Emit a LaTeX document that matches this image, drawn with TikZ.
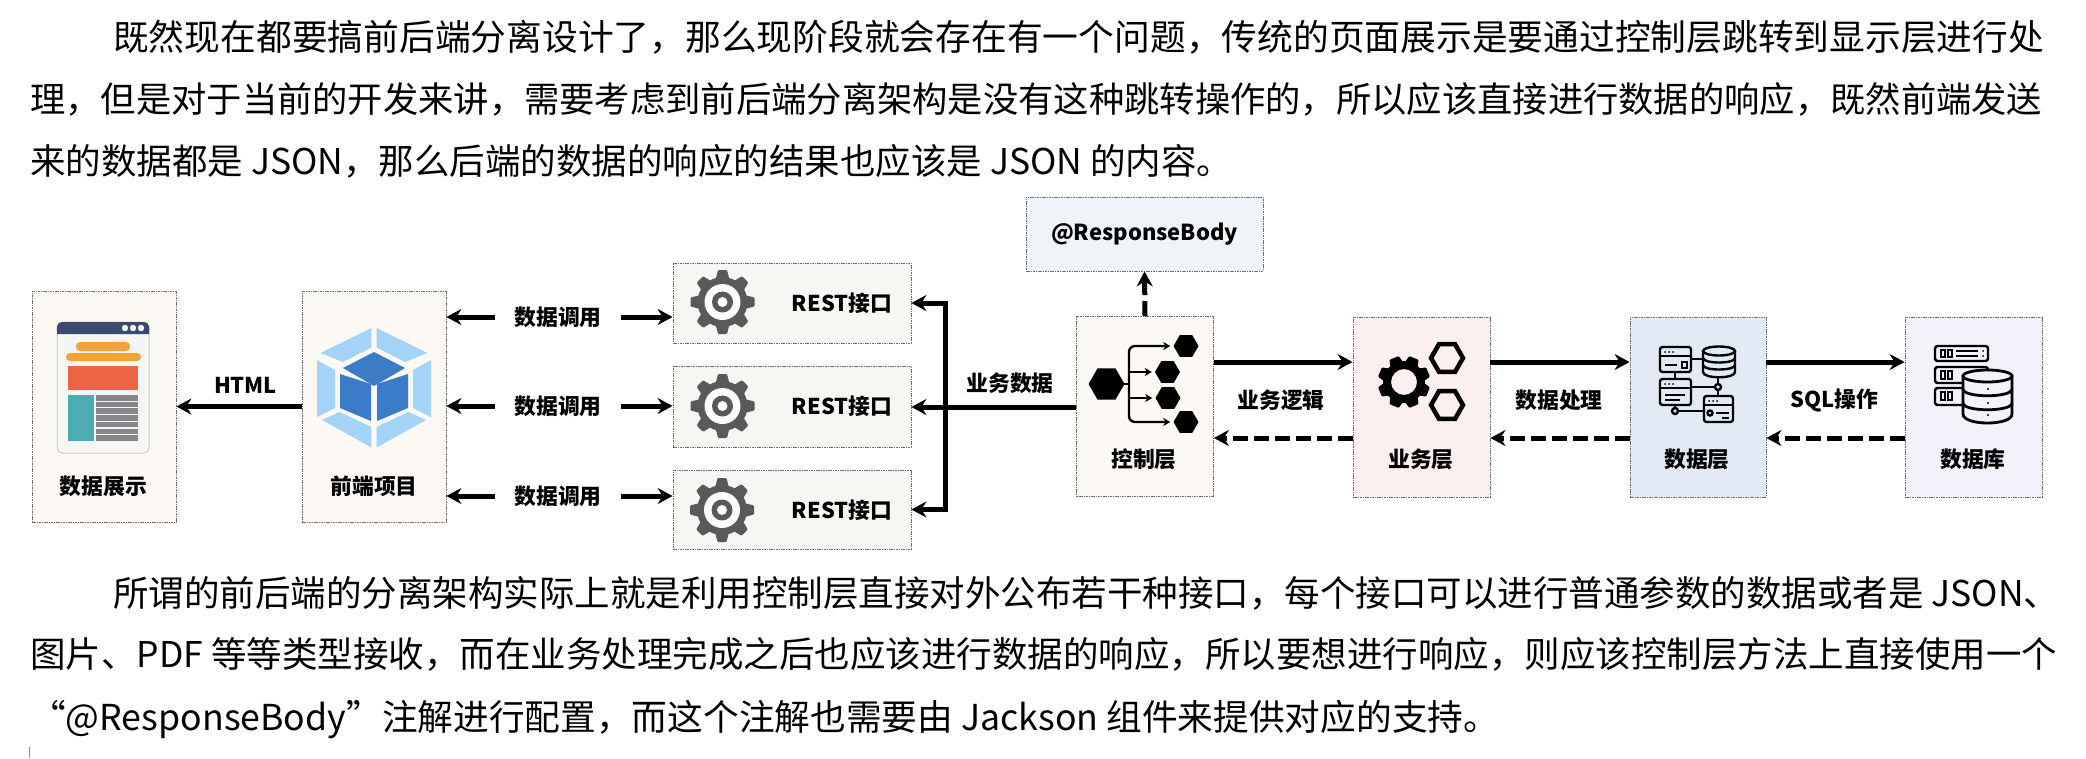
\documentclass[tikz,border=0pt]{standalone}
\usepackage{fontspec}
\setmainfont{Noto Sans CJK SC}
\usetikzlibrary{arrows.meta,shapes.geometric}
\definecolor{boxline}{HTML}{6E6E6E}
\definecolor{warmfill}{HTML}{FCF8F3}
\definecolor{restfill}{HTML}{F6F6F3}
\definecolor{respfill}{HTML}{EEF4F7}
\definecolor{bizfill}{HTML}{FCF0EE}
\definecolor{datafill}{HTML}{E2EAF5}
\definecolor{basefill}{HTML}{F3F1FA}
\definecolor{gearcol}{HTML}{58595B}
\definecolor{cubelight}{HTML}{A3D4F7}
\definecolor{cubedark}{HTML}{3B7BC8}
\definecolor{pagehead}{HTML}{3A4A6E}
\definecolor{pageorange}{HTML}{F2A33A}
\definecolor{pagered}{HTML}{EB6544}
\definecolor{pageteal}{HTML}{4BADB2}
\definecolor{pagegrey}{HTML}{85868A}
\tikzset{
  box/.style={draw=boxline,line width=0.8pt,dash pattern=on 1.6pt off 0.8pt,inner sep=0pt},
  para/.style={anchor=base west,inner sep=0pt},
  lab/.style={font=\bfseries\fontsize{21.8}{24}\selectfont,inner sep=0pt},
  call/.style={lab,inner xsep=19.5pt},
  flow/.style={line width=5pt},
  back/.style={line width=5pt,dash pattern=on 15pt off 6pt},
  hexfill/.style={regular polygon,regular polygon sides=6,fill=black,inner sep=0pt},
  hexline/.style={regular polygon,regular polygon sides=6,draw=black,line width=4.5pt,inner sep=0pt,minimum size=32pt},
  minor/.style={line width=2.4pt},
  icon/.style={line width=2.4pt,rounded corners=2.5pt},
  gearicon/.pic={
    \fill [gearcol] (0,0) circle (25);
    \foreach \a in {0,45,...,315}
      \fill [gearcol,rotate=\a,rounded corners=1pt] (-7,-22) -- (-4.5,-32) -- (4.5,-32) -- (7,-22) -- cycle;
    \fill [white] (0,0) circle (18);
    \fill [gearcol] (0,0) circle (10.5);
    \fill [white] (0,0) circle (5);
  }
}
\begin{document}
\begin{tikzpicture}[x=1pt,y=-1pt,>={Stealth[length=15pt,width=16pt,inset=5pt]}]
  \useasboundingbox (0,0) rectangle (2086,758);

  \node (top1) at (113,50.5) [para,font=\fontsize{35.76}{40}\selectfont] {既然现在都要搞前后端分离设计了，那么现阶段就会存在有一个问题，传统的页面展示是要通过控制层跳转到显示层进行处};
  \node (top2) at (30,112.5) [para,font=\fontsize{35.3}{40}\selectfont] {理，但是对于当前的开发来讲，需要考虑到前后端分离架构是没有这种跳转操作的，所以应该直接进行数据的响应，既然前端发送};
  \node (top3) at (30,174.5) [para,font=\fontsize{35.5}{40}\selectfont] {来的数据都是 JSON，那么后端的数据的响应的结果也应该是 JSON 的内容。};
  \node (bot1) at (113,606.5) [para,font=\fontsize{35.5}{40}\selectfont] {所谓的前后端的分离架构实际上就是利用控制层直接对外公布若干种接口，每个接口可以进行普通参数的数据或者是 JSON、};
  \node (bot2) at (30,667.5) [para,font=\fontsize{35.5}{40}\selectfont] {图片、PDF 等等类型接收，而在业务处理完成之后也应该进行数据的响应，所以要想进行响应，则应该控制层方法上直接使用一个};
  \node (bot3) at (30,730.5) [para,font=\fontsize{35.7}{40}\selectfont] {“@ResponseBody”注解进行配置，而这个注解也需要由 Jackson 组件来提供对应的支持。};
  \draw [black!45,line width=1pt] (29,747) -- (29,758);

  \node (show) at (104,406.5) [box,fill=warmfill,minimum width=144pt,minimum height=231pt] {};
  \node (front) at (374,406.5) [box,fill=warmfill,minimum width=144pt,minimum height=231pt] {};
  \node (rest1) at (792,303) [box,fill=restfill,minimum width=238pt,minimum height=80pt] {};
  \node (rest2) at (792,406.5) [box,fill=restfill,minimum width=238pt,minimum height=81pt] {};
  \node (rest3) at (792,509.5) [box,fill=restfill,minimum width=238pt,minimum height=79pt] {};
  \node (resp) at (1144.5,234) [box,fill=respfill,minimum width=237pt,minimum height=74pt,lab,font=\bfseries\fontsize{22}{26}\selectfont] {@ResponseBody};
  \node (ctrl) at (1145,406.5) [box,fill=warmfill,minimum width=137pt,minimum height=180pt] {};
  \node (biz) at (1421.5,407) [box,fill=bizfill,minimum width=137pt,minimum height=180pt] {};
  \node (data) at (1698,407) [box,fill=datafill,minimum width=136pt,minimum height=180pt] {};
  \node (dbase) at (1973.5,407) [box,fill=basefill,minimum width=137pt,minimum height=180pt] {};

  \node (showtxt) at (103.5,486) [lab] {数据展示};
  \node (fronttxt) at (374,486) [lab] {前端项目};
  \node (ctrltxt) at (1144,459) [lab] {控制层};
  \node (biztxt) at (1421,459) [lab] {业务层};
  \node (datatxt) at (1697,459) [lab] {数据层};
  \node (basetxt) at (1973,459) [lab] {数据库};
  \node (resttxt1) at (842,303) [lab] {REST接口};
  \node (resttxt2) at (842,406) [lab] {REST接口};
  \node (resttxt3) at (842,510) [lab] {REST接口};
  \node (html) at (245.5,385) [lab] {HTML};
  \node (call1) at (558,317) [call] {数据调用};
  \node (call2) at (558,406) [call] {数据调用};
  \node (call3) at (558,496) [call] {数据调用};
  \node (bizdata) at (1010,383) [lab] {业务数据};
  \node (logic) at (1281,400) [lab] {业务逻辑};
  \node (handle) at (1559,400) [lab] {数据处理};
  \node (sql) at (1834,400) [lab] {SQL操作};

  \coordinate (upper) at (0,362);
  \coordinate (lower) at (0,438);
  \coordinate (bus) at (945,407);
  \coordinate (busa) at (945,303);
  \coordinate (busb) at (945,509.5);

  \draw [flow,->] (front.west) -- (show.east);
  \draw [flow,->] (call1.west) -- (call1.west -| front.east);
  \draw [flow,->] (call2.west) -- (call2.west -| front.east);
  \draw [flow,->] (call3.west) -- (call3.west -| front.east);
  \draw [flow,->] (call1.east) -- (call1.east -| rest1.west);
  \draw [flow,->] (call2.east) -- (call2.east -| rest2.west);
  \draw [flow,->] (call3.east) -- (call3.east -| rest3.west);
  \draw [flow,->] (bus -| ctrl.west) -- (bus -| rest2.east);
  \draw [flow,<->] (rest1.east) -- (busa) -- (busb) -- (rest3.east);
  \draw [back,->] (ctrl.north) -- (resp.south);
  \draw [flow,->] (upper -| ctrl.east) -- (upper -| biz.west);
  \draw [flow,->] (upper -| biz.east) -- (upper -| data.west);
  \draw [flow,->] (upper -| data.east) -- (upper -| dbase.west);
  \draw [back,->] (lower -| biz.west) -- (lower -| ctrl.east);
  \draw [back,->] (lower -| data.west) -- (lower -| biz.east);
  \draw [back,->] (lower -| dbase.west) -- (lower -| data.east);

  % page icon
  \draw [fill=black!4,draw=black!20,line width=1pt,rounded corners=5pt] (57,322) rectangle (149,453);
  \fill [pagehead] (57,334) [rounded corners=5pt] -- (57,322) -- (149,322) [sharp corners] -- (149,334) -- cycle;
  \fill [white] (125,328) circle (3.2) (133,328) circle (3.2) (141,328) circle (3.2);
  \fill [pageorange,rounded corners=4pt] (76,342) rectangle (130,351);
  \fill [pageorange,rounded corners=4pt] (66,353) rectangle (141,361);
  \fill [pagered] (68,366) rectangle (138,390);
  \fill [pageteal] (68,395) rectangle (94,441);
  \foreach \y in {395,401.7,408.4,415.1,421.8,428.5,435.2}
    \fill [pagegrey] (96,\y) rectangle (138,\y+5.5);

  % webpack cube
  \begin{scope}[shift={(374,387)}]
    \foreach \s in {1,-1} {
      \begin{scope}[xscale=\s]
        \fill [cubelight] (2.6,-59) -- (53.5,-34) -- (31,-25) -- (2.6,-39.5) -- cycle;
        \fill [cubelight] (57,-27) -- (57,30) -- (39,21) -- (39,-17) -- cycle;
        \fill [cubelight] (2.6,60.5) -- (52,33) -- (34.5,25) -- (2.6,40) -- cycle;
        \fill [cubedark] (3,-3) -- (34,-13) -- (34,21) -- (3,34) -- cycle;
      \end{scope}
    }
    \fill [cubedark] (0,-35) -- (31,-19) -- (0,-1) -- (-31,-19) -- cycle;
  \end{scope}

  \pic at (722.5,302) {gearicon};
  \pic at (722.5,406) {gearicon};
  \pic at (722,510) {gearicon};

  % control icon
  \node (hexbig) at (1106.5,384) [hexfill,minimum size=36pt] {};
  \node (hexa) at (1186,346) [hexfill,minimum size=25pt] {};
  \node (hexb) at (1167.5,372) [hexfill,minimum size=25pt] {};
  \node (hexc) at (1168,398) [hexfill,minimum size=25pt] {};
  \node (hexd) at (1186,422) [hexfill,minimum size=25pt] {};
  \coordinate (trunk) at (1129,384);
  \draw [minor] (hexbig.center) -- (trunk);
  \draw [minor,rounded corners=6pt,-{Stealth[length=7pt,width=8pt,inset=2pt]},shorten >=3pt] (trunk) |- (hexa.west);
  \draw [minor,rounded corners=6pt,-{Stealth[length=7pt,width=8pt,inset=2pt]},shorten >=3pt] (trunk) |- (hexd.west);
  \draw [minor,-{Stealth[length=7pt,width=8pt,inset=2pt]},shorten >=3pt] (trunk |- hexb) -- (hexb.west);
  \draw [minor,-{Stealth[length=7pt,width=8pt,inset=2pt]},shorten >=3pt] (trunk |- hexc) -- (hexc.west);

  % business icon
  \fill [even odd rule,black] (1404,382) circle (21) (1404,382) circle (13);
  \foreach \a in {0,45,...,315}
    \fill [black,shift={(1404,382)},rotate=\a+22.5,rounded corners=1pt] (-7,-18) -- (-5,-26) -- (5,-26) -- (7,-18) -- cycle;
  \node (hexe) at (1447,358) [hexline] {};
  \node (hexf) at (1447,405) [hexline] {};

  % data layer icon
  \draw [icon] (1660,347) rectangle (1691,372);
  \draw [minor] (1660,356) -- (1691,356) (1665,365) -- (1677,365);
  \fill (1665,352) circle (1) (1669,352) circle (1) (1673,352) circle (1);
  \draw [minor] (1682,362) rectangle (1687,368);
  \draw [icon] (1660,379) rectangle (1691,405);
  \draw [minor] (1660,388) -- (1691,388) (1665,395) -- (1685,395) (1665,400) -- (1680,400);
  \fill (1665,384) circle (1) (1669,384) circle (1) (1673,384) circle (1);
  \draw [icon] (1704,396) rectangle (1733,422);
  \draw [minor] (1704,405) -- (1733,405) (1716,413) -- (1729,413) (1722,418) -- (1729,418);
  \fill (1709,401) circle (1) (1713,401) circle (1) (1717,401) circle (1);
  \draw [minor] (1710,413) circle (2.5);
  \draw [minor] (1719,351) ellipse (16 and 4.5);
  \draw [minor] (1703,351) -- (1703,372) .. controls (1703,379) and (1735,379) .. (1735,372) -- (1735,351);
  \foreach \y in {358,365}
    \draw [minor] (1703,\y) .. controls (1703,\y+6) and (1735,\y+6) .. (1735,\y);
  \draw [minor] (1691,359) -- (1703,359);
  \draw [minor] (1675,372) -- (1675,379);
  \draw [minor] (1691,387) -- (1715,387) (1718,377) -- (1718,384) (1718,390) -- (1718,396);
  \draw [minor] (1718,387) circle (3);
  \draw [minor] (1675,405) -- (1675,408) (1678,411) -- (1704,411);
  \draw [minor] (1675,411) circle (3);

  % database icon
  \draw [icon] (1935,346) rectangle (1988,361);
  \draw [icon] (1935,367) rectangle (1988,383);
  \draw [icon] (1935,388) rectangle (1988,405);
  \draw [minor] (1941,350) rectangle (1945,357) (1948,350) rectangle (1952,357);
  \draw [minor] (1956,351) -- (1978,351) (1956,356) -- (1978,356);
  \fill (1983,351) circle (1) (1983,356) circle (1);
  \draw [minor] (1941,371) rectangle (1945,379) (1948,371) rectangle (1952,379);
  \draw [minor] (1941,392) rectangle (1945,400) (1948,392) rectangle (1952,400);
  \draw [line width=2.8pt,fill=basefill] (1963,376) -- (1963,414) .. controls (1963,426) and (2012,426) .. (2012,414) -- (2012,376) -- cycle;
  \draw [line width=2.8pt,fill=basefill] (1987.5,376) ellipse (24.5 and 6);
  \foreach \y in {389,403}
    \draw [line width=2.8pt] (1963,\y) .. controls (1963,\y+9) and (2012,\y+9) .. (2012,\y);
  \fill (1988,389) circle (1.2) (1988,403) circle (1.2) (1988,415) circle (1.2);
\end{tikzpicture}
\end{document}
